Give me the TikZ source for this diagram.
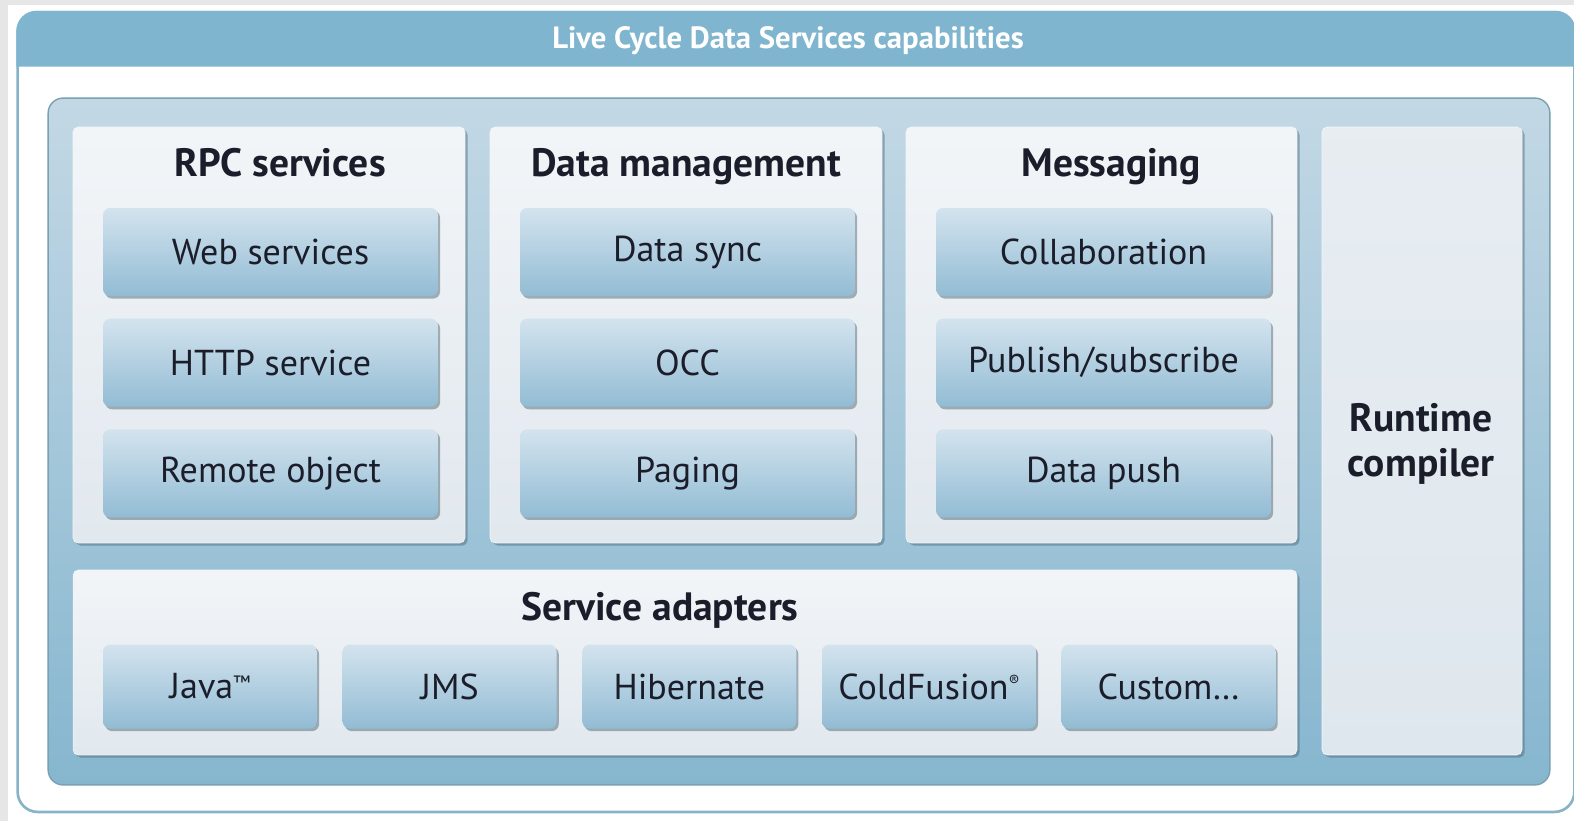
\documentclass[tikz,border=0pt]{standalone}
\usepackage{fontspec}
\setmainfont{PT Sans}
\usetikzlibrary{positioning, shadows}

\definecolor{pagegray}{HTML}{E6E6E6}
\definecolor{headblue}{HTML}{7FB5CE}
\definecolor{rimblue}{HTML}{86B3C6}
\definecolor{paneltop}{HTML}{C3D8E5}
\definecolor{panelbot}{HTML}{86B6CF}
\definecolor{grouptop}{HTML}{F2F5F8}
\definecolor{groupbot}{HTML}{E1E8EE}
\definecolor{btntop}{HTML}{D3E3EE}
\definecolor{btnbot}{HTML}{92BCD4}
\definecolor{inktext}{HTML}{1B1E2A}

\begin{document}
\begin{tikzpicture}[
                x=0.02cm, y=-0.02cm,
                frame/.style={rectangle, rounded corners=0.4cm, draw=rimblue, line width=1.5pt, fill=white},
                panel/.style={rectangle, rounded corners=0.3cm, top color=paneltop, bottom color=panelbot, draw=rimblue!90!black, line width=0.8pt},
                group/.style={rectangle, rounded corners=3pt, top color=grouptop, bottom color=groupbot, draw=white!60!groupbot,
                    drop shadow={shadow xshift=1.5pt, shadow yshift=-1.5pt, fill=panelbot!60!black, opacity=0.5}},
                btn/.style={rectangle, rounded corners=4pt, minimum width=6.7cm, minimum height=1.76cm, top color=btntop, bottom color=btnbot,
                    drop shadow={shadow xshift=1.2pt, shadow yshift=-1.5pt, fill=panelbot!50!black, opacity=0.45},
                    font=\fontsize{20.5}{24}\selectfont, text=inktext},
                adapter/.style={btn, minimum width=4.28cm, minimum height=1.68cm},
                heading/.style={font=\fontsize{22.5}{26}\selectfont\bfseries, text=inktext, align=center}
            ]
            \useasboundingbox (0,0) rectangle (1574,821);
            \fill[pagegray] (0,0) rectangle (1574,5);
            \fill[pagegray] (0,0) rectangle (8,821);

            % Outer frame and title band
            \node[frame, minimum width=31.14cm, minimum height=16cm] (frame) at (796,412) {};
            \fill[headblue] ([yshift=-1.12cm]frame.north west) [rounded corners=0.4cm] -- (frame.north west) -- (frame.north east) [sharp corners] -- ([yshift=-1.12cm]frame.north east) -- cycle;
            \node[font=\fontsize{17.5}{20}\selectfont\bfseries, text=white, anchor=base] (title) at (788,49) {Live Cycle Data Services capabilities};

            % Inner panel
            \node[panel, minimum width=30.04cm, minimum height=13.74cm] (panel) at (799,441.5) {};

            % RPC services
            \node[group, minimum width=7.84cm, minimum height=8.32cm] (rpc) at (269,335) {};
            \node[heading, anchor=base] (rpctitle) at (280,176) {RPC services};
            \node[btn] (web) at (270.5,252) {Web services};
            \node[btn, below=0.44cm of web] (http) {HTTP service};
            \node[btn, below=0.44cm of http] (remote) {Remote object};

            % Data management
            \node[group, minimum width=7.84cm, minimum height=8.32cm] (data) at (686,335) {};
            \node[heading, anchor=base] (datatitle) at (686,176) {Data management};
            \node[btn] (sync) at (687.5,252) {Data sync};
            \node[btn, below=0.44cm of sync] (occ) {OCC};
            \node[btn, below=0.44cm of occ] (paging) {Paging};

            % Messaging
            \node[group, minimum width=7.82cm, minimum height=8.32cm] (msg) at (1101.5,335) {};
            \node[heading, anchor=base] (msgtitle) at (1111,176) {Messaging};
            \node[btn] (collab) at (1103.5,252) {Collaboration};
            \node[btn, below=0.44cm of collab] (pubsub) {Publish/subscribe};
            \node[btn, below=0.44cm of pubsub] (push) {Data push};

            % Runtime compiler
            \node[group, minimum width=4cm, minimum height=12.56cm, top color=groupbot!80!white, bottom color=groupbot!85!btntop] (runtime) at (1422,441) {};
            \node[heading] (runtimetitle) at (1421,444) {Runtime\\compiler};

            % Service adapters
            \node[group, minimum width=24.48cm, minimum height=3.7cm] (adapters) at (685,662.5) {};
            \node[heading, anchor=base] (adaptertitle) at (660,620) {Service adapters};
            \node[adapter] (java) at (210,686.5) {Java\raisebox{0.55ex}{\fontsize{11}{12}\selectfont\texttrademark}};
            \node[adapter, right=0.5cm of java] (jms) {JMS};
            \node[adapter, right=0.5cm of jms] (hibernate) {Hibernate};
            \node[adapter, right=0.5cm of hibernate] (coldfusion) {ColdFusion\raisebox{0.7ex}{\fontsize{9}{10}\selectfont\textregistered}};
            \node[adapter, right=0.5cm of coldfusion] (custom) {Custom\dots};
        \end{tikzpicture}
\end{document}
